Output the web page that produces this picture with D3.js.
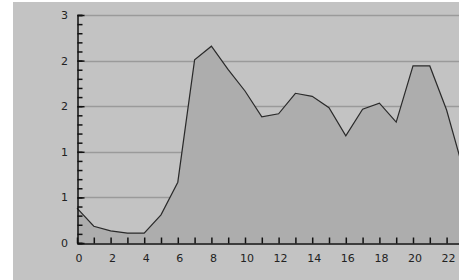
<!DOCTYPE html>
<html>
<head>
<meta charset="utf-8">
<script src="https://cdn.jsdelivr.net/npm/d3@7"></script>
<style>
  body { margin: 0; background: #fff; }
  svg { display: block; font-family: "DejaVu Sans", sans-serif; }
</style>
</head>
<body>
<div id="chart"></div>
<script>
// heures de la journée et valeurs
const hours = [0,1,2,3,4,5,6,7,8,9,10,11,12,13,14,15,16,17,18,19,20,21,22,23];
const values = [0.46,0.22,0.16,0.13,0.13,0.37,0.8,2.41,2.59,2.28,2.0,1.66,1.70,1.97,1.93,1.78,1.41,1.76,1.84,1.59,2.33,2.33,1.75,0.96];
const yTicks = [0,0.6,1.2,1.8,2.4,3.0];
const xLabels = [0,2,4,6,8,10,12,14,16,18,20,22];

const width = 459, height = 280;
const x0 = 77, yBase = 243, yTop = 15;

const x = d3.scaleLinear().domain([0, 23]).range([x0, x0 + 16.8 * 23]);
const y = d3.scaleLinear().domain([0, 3]).range([yBase, yTop]);

const svg = d3.select("#chart").append("svg")
    .attr("width", width)
    .attr("height", height);

// fond gris
svg.append("rect")
    .attr("x", 13).attr("y", 2)
    .attr("width", width - 13).attr("height", height - 2)
    .attr("fill", "#c3c3c3");

// lignes de grille
svg.append("g")
    .selectAll("line")
    .data(yTicks.slice(1))
    .join("line")
    .attr("x1", x0 + 7).attr("x2", width)
    .attr("y1", d => Math.round(y(d)) + 0.5)
    .attr("y2", d => Math.round(y(d)) + 0.5)
    .attr("stroke", "#9a9a9a")
    .attr("stroke-width", 1.5);

// aire
const area = d3.area()
    .x((d, i) => x(hours[i]))
    .y0(y(0))
    .y1(d => y(d));
svg.append("path")
    .datum(values)
    .attr("d", area)
    .attr("fill", "#adadad");

const line = d3.line()
    .x((d, i) => x(hours[i]))
    .y(d => y(d));
svg.append("path")
    .datum(values)
    .attr("d", line)
    .attr("fill", "none")
    .attr("stroke", "#2a2a2a")
    .attr("stroke-width", 1.2);

// axe Y (ticks vers l'intérieur)
const yMinor = d3.range(0, 3.0001, 0.12);
svg.append("g")
    .attr("transform", `translate(${x0 + 0.5},0)`)
    .call(d3.axisRight(y).tickValues(yMinor).tickSize(5).tickFormat(""))
    .call(g => g.selectAll("line").attr("stroke", "#111").attr("stroke-width", 1.5))
    .call(g => g.select(".domain").attr("stroke", "#111").attr("stroke-width", 1.5));
svg.append("g")
    .attr("transform", `translate(${x0 + 0.5},0)`)
    .call(d3.axisRight(y).tickValues(yTicks).tickSize(7).tickFormat(""))
    .call(g => g.selectAll("line").attr("stroke", "#111").attr("stroke-width", 1.5))
    .call(g => g.select(".domain").remove());
svg.append("g")
    .selectAll("text")
    .data(yTicks)
    .join("text")
    .attr("x", 68)
    .attr("y", d => y(d) + 4)
    .attr("text-anchor", "end")
    .attr("font-size", 11)
    .attr("fill", "#222")
    .text(d => Math.round(d));

// axe X (ticks vers le haut)
svg.append("g")
    .attr("transform", `translate(0,${yBase + 0.5})`)
    .call(d3.axisTop(x).tickValues(hours).tickSize(6).tickFormat("").tickSizeOuter(0))
    .call(g => g.selectAll("line").attr("stroke", "#111").attr("stroke-width", 1.5))
    .call(g => g.select(".domain").attr("stroke", "#111").attr("stroke-width", 1.5));
svg.append("g")
    .selectAll("text")
    .data(xLabels)
    .join("text")
    .attr("x", d => x(d) + 2)
    .attr("y", 262)
    .attr("text-anchor", "middle")
    .attr("font-size", 11)
    .attr("fill", "#222")
    .text(d => d);
</script>
</body>
</html>
